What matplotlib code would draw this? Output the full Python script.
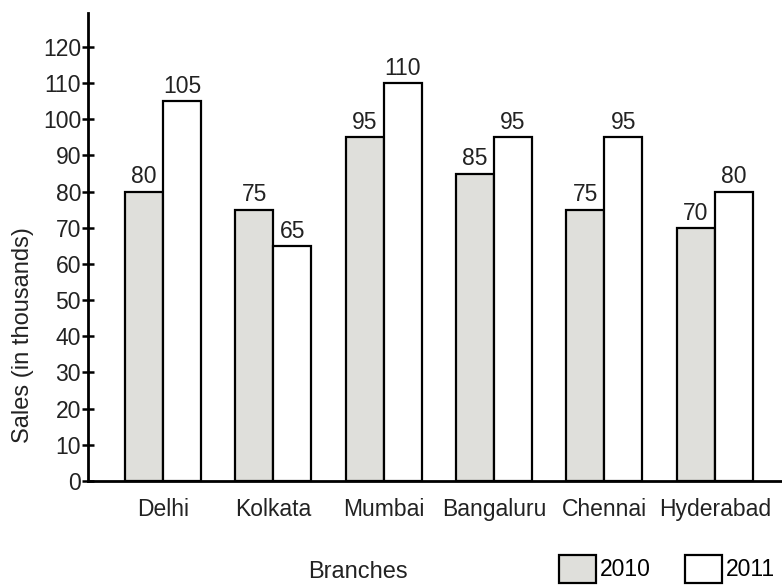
import matplotlib.pyplot as plt
from matplotlib.patches import Patch
import numpy as np

plt.rcParams['font.family'] = ['Liberation Sans', 'DejaVu Sans']

# data
branches = ["Delhi", "Kolkata", "Mumbai", "Bangaluru", "Chennai", "Hyderabad"]
sales_2010 = [80, 75, 95, 85, 75, 70]
sales_2011 = [105, 65, 110, 95, 95, 80]
years = ["2010", "2011"]

gray = "#dfdfdb"
txt = "#222222"
fs = 16.5
w = 0.345
x = np.arange(len(branches))

fig = plt.figure(figsize=(7.82, 5.85), dpi=100)
ax = fig.add_axes([88 / 782, 104 / 585, 694 / 782, 468 / 585])

b1 = ax.bar(x - w / 2, sales_2010, width=w, color=gray, edgecolor="black", linewidth=1.6)
b2 = ax.bar(x + w / 2, sales_2011, width=w, color="white", edgecolor="black", linewidth=1.6)

# value labels on top of bars
for bars, vals in ((b1, sales_2010), (b2, sales_2011)):
    for r, v in zip(bars, vals):
        ax.text(r.get_x() + r.get_width() / 2, v + 0.9, str(v),
                ha="center", va="bottom", fontsize=fs, color=txt)

ax.set_xlim(-0.68, 5.61)
ax.set_ylim(0, 129.4)
ax.set_yticks(range(0, 121, 10))
ax.set_xticks(x)
ax.set_xticklabels(branches)

for s in ["top", "right"]:
    ax.spines[s].set_visible(False)
ax.spines["left"].set_linewidth(2)
ax.spines["bottom"].set_linewidth(2)

ax.tick_params(axis="y", direction="inout", length=8, width=1.8, labelsize=fs,
               pad=1, labelcolor=txt)
ax.tick_params(axis="x", length=0, labelsize=fs, pad=12, labelcolor=txt)

fig.text(23 / 782, 1 - 335 / 585, "Sales (in thousands)", rotation=90,
         ha="center", va="center", fontsize=17, color=txt)
fig.text(358 / 782, 1 - 572 / 585, "Branches", ha="center", va="center",
         fontsize=17, color=txt)

handles = [Patch(facecolor=gray, edgecolor="black", linewidth=1.6),
           Patch(facecolor="white", edgecolor="black", linewidth=1.6)]
fig.legend(handles, years, loc="lower left", bbox_to_anchor=(0.709, -0.004),
           ncol=2, frameon=False, fontsize=fs, handlelength=1.6, handleheight=1.5,
           handletextpad=0.17, columnspacing=1.5, borderpad=0.2, borderaxespad=0)

fig.savefig("out.png", dpi=100)
